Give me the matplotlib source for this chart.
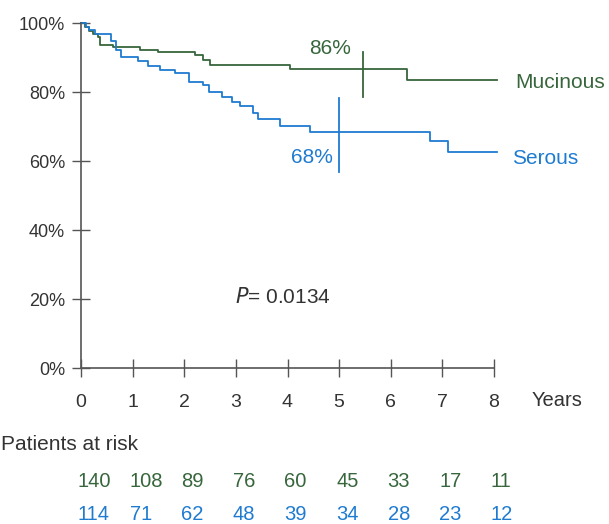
import matplotlib
matplotlib.use("Agg")
import matplotlib.pyplot as plt
import matplotlib.transforms as mtransforms

plt.rcParams['font.family'] = ['Liberation Sans', 'DejaVu Sans']

GREEN = '#37663c'
BLUE = '#1f7bd0'
GREY = '#555555'
TEXT = '#333333'

# Kaplan-Meier steps (years, % surviving)
mucinous_t = [0, 0.08, 0.16, 0.24, 0.33, 0.37, 0.62, 1.15, 1.5, 2.21, 2.36, 2.5, 4.05, 6.31, 8.05]
mucinous_s = [100, 98.9, 97.9, 96.9, 96.0, 93.8, 93.0, 92.2, 91.6, 90.8, 89.4, 87.9, 86.7, 83.6, 83.6]
serous_t = [0, 0.1, 0.16, 0.27, 0.58, 0.68, 0.78, 1.1, 1.3, 1.53, 1.82, 2.1, 2.36, 2.48,
            2.73, 2.92, 3.08, 3.33, 3.43, 3.85, 4.44, 6.76, 7.11, 8.05]
serous_s = [100, 99.0, 98.1, 96.9, 94.8, 92.3, 90.1, 89.2, 87.7, 86.6, 85.6, 83.1, 82.1, 80.2,
            78.7, 77.3, 76.0, 74.0, 72.2, 70.2, 68.6, 65.9, 62.8, 62.8]

# 5-year marks
mucinous_mark_x = 5.46
mucinous_mark_y = [78.7, 91.8]
serous_mark_x = 5.0
serous_mark_y = [57.0, 78.3]

years = [0, 1, 2, 3, 4, 5, 6, 7, 8]
y_ticks = [0, 20, 40, 60, 80, 100]
at_risk_mucinous = [140, 108, 89, 76, 60, 45, 33, 17, 11]
at_risk_serous = [114, 71, 62, 48, 39, 34, 28, 23, 12]

W, H = 609, 524
fig = plt.figure(figsize=(W / 100, H / 100), dpi=100)
ax = fig.add_axes([81 / W, 1 - 368.3 / H, (494 - 81) / W, (368.3 - 23.3) / H])

ax.step(mucinous_t, mucinous_s, where='post', color=GREEN, lw=1.3, clip_on=False)
ax.step(serous_t, serous_s, where='post', color=BLUE, lw=1.3, clip_on=False)
ax.plot([mucinous_mark_x] * 2, mucinous_mark_y, color=GREEN, lw=1.3)
ax.plot([serous_mark_x] * 2, serous_mark_y, color=BLUE, lw=1.3)

ax.set_xlim(0, 8)
ax.set_ylim(0, 100)
ax.set_xticks(years)
ax.set_yticks(y_ticks)
ax.set_yticklabels(['{0}%'.format(v) for v in y_ticks])

for s in ['top', 'right']:
    ax.spines[s].set_visible(False)
for s in ['left', 'bottom']:
    ax.spines[s].set_color(GREY)
    ax.spines[s].set_linewidth(1.2)
ax.tick_params(axis='both', direction='inout', length=13, width=1.0, color=GREY, labelcolor=TEXT)
ax.tick_params(axis='y', pad=5, labelsize=13)
ax.tick_params(axis='x', pad=12, labelsize=14)

ax.text(4.82, 92.7, '86%', color=GREEN, fontsize=15, ha='center', va='center')
ax.text(4.87, 61.1, '68%', color=BLUE, fontsize=15, ha='right', va='center')
ax.text(8.41, 82.8, 'Mucinous', color=GREEN, fontsize=15, ha='left', va='center', clip_on=False)
ax.text(8.34, 60.7, 'Serous', color=BLUE, fontsize=15, ha='left', va='center', clip_on=False)
ax.text(2.98, 20.8, r'$\it{P}$= 0.0134', color=TEXT, fontsize=15, ha='left', va='center')

fig.text(532 / W, 1 - 400 / H, 'Years', color=TEXT, fontsize=14.5, ha='left', va='center')
fig.text(1 / W, 1 - 445 / H, 'Patients at risk', color=TEXT, fontsize=15, ha='left', va='center')

trans = mtransforms.blended_transform_factory(ax.transData, fig.transFigure)
for x, a, b in zip(years, at_risk_mucinous, at_risk_serous):
    fig.text(x - 0.06, 1 - 481.7 / H, str(a), color=GREEN, fontsize=14.5, ha='left', va='center', transform=trans)
    fig.text(x - 0.06, 1 - 515 / H, str(b), color=BLUE, fontsize=14.5, ha='left', va='center', transform=trans)

fig.savefig('out.png', dpi=100)
